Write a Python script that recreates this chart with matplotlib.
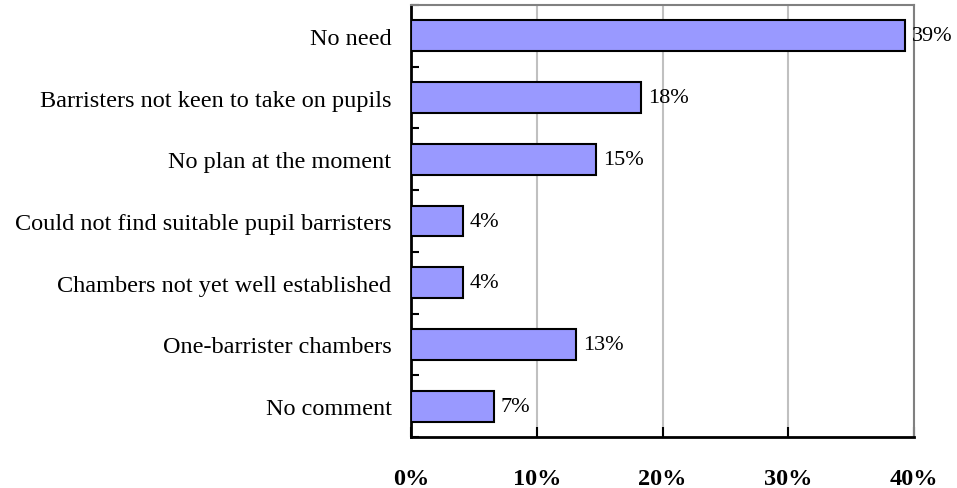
import numpy as np
import matplotlib.pyplot as plt
from matplotlib.ticker import FixedLocator

plt.rcParams['font.family'] = ['Liberation Serif', 'DejaVu Serif']

# Reasons given, top to bottom, and share of respondents (%)
reasons = [
    "No need",
    "Barristers not keen to take on pupils",
    "No plan at the moment",
    "Could not find suitable pupil barristers",
    "Chambers not yet well established",
    "One-barrister chambers",
    "No comment",
]
shares = [39.3, 18.3, 14.7, 4.1, 4.1, 13.1, 6.6]
x_ticks = [0, 10, 20, 30, 40]
x_tick_labels = ["0%", "10%", "20%", "30%", "40%"]

fig = plt.figure(figsize=(9.57, 4.89), dpi=100)
ax = fig.add_axes([0.4295, 0.1043, 0.5256, 0.8834])

y = np.arange(len(reasons))
bars = ax.barh(y, shares, height=0.5, color="#9999FF",
               edgecolor="black", linewidth=1.5, zorder=3)

for bar, val in zip(bars, shares):
    ax.annotate(f"{val:.0f}%", (bar.get_width(), bar.get_y() + bar.get_height() / 2),
                xytext=(5, 0), textcoords="offset points",
                ha="left", va="center", fontsize=16)

ax.set_xlim(0, 40)
ax.set_ylim(len(reasons) - 0.5, -0.5)

# category labels sit at bar centres, ticks mark the boundaries
ax.set_yticks(y)
ax.set_yticklabels(reasons, fontsize=17.5)
ax.yaxis.set_minor_locator(FixedLocator(np.arange(-0.5, len(reasons), 1.0)))
ax.tick_params(axis="y", which="major", length=0, pad=14)
ax.tick_params(axis="y", which="minor", direction="in", length=6, width=1.5)

ax.set_xticks(x_ticks)
ax.set_xticklabels(x_tick_labels, fontsize=17.5, fontweight="bold")
ax.tick_params(axis="x", direction="in", length=7, width=1.5, pad=22)

ax.grid(axis="x", color="#C0C0C0", linewidth=1.5, zorder=0)

for side in ("left", "bottom"):
    ax.spines[side].set_color("black")
    ax.spines[side].set_linewidth(2)
for side in ("top", "right"):
    ax.spines[side].set_color("#808080")
    ax.spines[side].set_linewidth(1.5)

fig.savefig("out.png", dpi=100)
